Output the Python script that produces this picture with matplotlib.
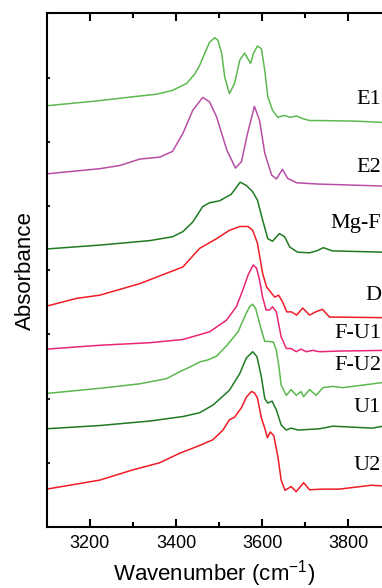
import matplotlib
matplotlib.use("Agg")
import matplotlib.pyplot as plt
from matplotlib.ticker import FixedLocator, NullFormatter

plt.rcParams['font.family'] = ['Liberation Sans', 'DejaVu Sans']

# spectra, stacked (absorbance + offset)
e1_wn = [3100, 3223, 3300, 3355, 3392, 3425, 3443, 3455, 3467, 3478, 3490, 3497, 3506, 3513, 3524,
         3536, 3548, 3559, 3566, 3573, 3580, 3589, 3598, 3606, 3613, 3624, 3636, 3652, 3664, 3680,
         3694, 3710, 3733, 3819, 3880]
e1_ab = [6.56, 6.64, 6.70, 6.74, 6.80, 6.91, 7.05, 7.19, 7.38, 7.55, 7.62, 7.58, 7.38, 7.01, 6.75,
         6.91, 7.27, 7.38, 7.30, 7.22, 7.38, 7.49, 7.45, 7.11, 6.70, 6.49, 6.38, 6.41, 6.38, 6.40,
         6.36, 6.33, 6.33, 6.32, 6.30]

e2_wn = [3100, 3223, 3270, 3316, 3362, 3392, 3416, 3439, 3462, 3478, 3494, 3518, 3538, 3552, 3566,
         3582, 3594, 3606, 3622, 3633, 3647, 3659, 3680, 3733, 3880]
e2_ab = [5.50, 5.58, 5.63, 5.73, 5.76, 5.85, 6.13, 6.49, 6.69, 6.62, 6.39, 5.87, 5.59, 5.69, 6.13,
         6.55, 6.33, 5.82, 5.48, 5.42, 5.57, 5.43, 5.36, 5.34, 5.31]

mgf_wn = [3100, 3223, 3339, 3392, 3416, 3439, 3462, 3478, 3501, 3528, 3549, 3563, 3578, 3589, 3601,
          3613, 3624, 3640, 3652, 3664, 3682, 3710, 3726, 3742, 3763, 3880]
mgf_ab = [4.33, 4.39, 4.46, 4.52, 4.60, 4.75, 4.99, 5.05, 5.08, 5.18, 5.37, 5.32, 5.22, 5.09, 4.78,
          4.49, 4.45, 4.57, 4.52, 4.36, 4.28, 4.27, 4.30, 4.35, 4.30, 4.28]

d_wn = [3100, 3169, 3223, 3316, 3416, 3455, 3494, 3524, 3548, 3567, 3578, 3589, 3601, 3610, 3629,
        3638, 3647, 3657, 3668, 3680, 3694, 3710, 3724, 3740, 3756, 3880]
d_ab = [3.44, 3.56, 3.61, 3.79, 4.05, 4.34, 4.49, 4.62, 4.68, 4.68, 4.62, 4.42, 3.95, 3.74, 3.58,
        3.61, 3.51, 3.35, 3.35, 3.30, 3.41, 3.30, 3.35, 3.39, 3.27, 3.26]

fu1_wn = [3100, 3223, 3339, 3416, 3478, 3517, 3540, 3555, 3567, 3579, 3587, 3594, 3601, 3609, 3617,
          3624, 3633, 3644, 3656, 3667, 3679, 3690, 3702, 3717, 3733, 3779, 3880]
fu1_ab = [2.77, 2.83, 2.87, 2.92, 3.04, 3.22, 3.43, 3.69, 3.92, 4.08, 4.03, 3.84, 3.58, 3.38, 3.38,
          3.43, 3.35, 2.96, 2.78, 2.78, 2.73, 2.77, 2.73, 2.75, 2.73, 2.74, 2.75]

fu2_wn = [3100, 3223, 3316, 3378, 3409, 3432, 3455, 3473, 3494, 3517, 3544, 3563, 3571, 3578, 3585,
          3590, 3598, 3606, 3617, 3626, 3633, 3639, 3644, 3656, 3667, 3679, 3690, 3696, 3710, 3725,
          3741, 3764, 3787, 3880]
fu2_ab = [2.08, 2.16, 2.23, 2.31, 2.42, 2.49, 2.57, 2.60, 2.66, 2.82, 3.04, 3.33, 3.43, 3.47, 3.40,
          3.27, 3.07, 2.89, 2.89, 2.88, 2.75, 2.49, 2.21, 2.05, 2.14, 2.05, 2.11, 2.03, 2.14, 2.05,
          2.17, 2.19, 2.17, 2.25]

u1_wn = [3100, 3223, 3339, 3416, 3455, 3486, 3524, 3548, 3563, 3578, 3588, 3598, 3606, 3613, 3623,
         3633, 3644, 3656, 3667, 3683, 3710, 3733, 3764, 3856, 3880]
u1_ab = [1.53, 1.58, 1.65, 1.72, 1.78, 1.90, 2.13, 2.39, 2.63, 2.73, 2.65, 2.34, 2.00, 1.93, 1.96,
         1.82, 1.59, 1.51, 1.54, 1.51, 1.52, 1.53, 1.57, 1.54, 1.57]

u2_wn = [3100, 3223, 3300, 3362, 3409, 3455, 3486, 3509, 3524, 3536, 3552, 3563, 3575, 3582, 3589,
         3598, 3606, 3612, 3619, 3627, 3637, 3644, 3653, 3667, 3679, 3696, 3710, 3741, 3779, 3853,
         3880]
u2_ab = [0.59, 0.73, 0.89, 1.00, 1.15, 1.27, 1.36, 1.51, 1.67, 1.71, 1.86, 2.02, 2.11, 2.09, 2.01,
         1.70, 1.54, 1.39, 1.48, 1.42, 1.07, 0.73, 0.57, 0.63, 0.55, 0.69, 0.58, 0.59, 0.59, 0.65,
         0.64]

labels = ["E1", "E2", "Mg-F", "D", "F-U1", "F-U2", "U1", "U2"]
label_y = [6.65, 5.60, 4.73, 3.61, 3.02, 2.52, 1.86, 0.96]

light_green = "#5cb84f"
dark_green = "#1f7a22"
red = "#ee1c25"

series = [
    (e1_wn, e1_ab, light_green),
    (e2_wn, e2_ab, "#b84ea6"),
    (mgf_wn, mgf_ab, dark_green),
    (d_wn, d_ab, red),
    (fu1_wn, fu1_ab, "#ea2574"),
    (fu2_wn, fu2_ab, light_green),
    (u1_wn, u1_ab, dark_green),
    (u2_wn, u2_ab, red),
]

fig = plt.figure(figsize=(3.82, 5.88), dpi=100)
ax = fig.add_axes([46.7 / 382, 61 / 588, 1 - 46.7 / 382, (527 - 13.3) / 588])

for wn, ab, col in series:
    ax.plot(wn, ab, color=col, lw=1.1)

for lab, yy in zip(labels, label_y):
    ax.text(3876, yy, lab, ha="right", va="center", fontsize=16,
            family=["Liberation Serif", "DejaVu Serif"], clip_on=False)

ax.set_xlim(3100, 3878)
ax.set_ylim(0, 8)

ax.xaxis.set_major_locator(FixedLocator([3200, 3400, 3600, 3800]))
ax.xaxis.set_minor_locator(FixedLocator([3300, 3500, 3700]))
ax.yaxis.set_major_locator(FixedLocator([1, 2, 3, 4, 5, 6, 7]))
ax.yaxis.set_major_formatter(NullFormatter())

ax.tick_params(axis="x", which="major", direction="in", length=6, width=1.5,
               top=True, labelsize=13, pad=6)
ax.tick_params(axis="x", which="minor", direction="in", length=3.5, width=1.5, top=True)
ax.tick_params(axis="y", which="major", direction="in", length=2.5, width=1.2, right=False)

ax.spines["right"].set_visible(False)
for s in ["left", "top", "bottom"]:
    ax.spines[s].set_linewidth(1.5)

ax.set_xlabel("Wavenumber (cm$^{\\mathregular{-1}}$)", fontsize=16, labelpad=4)
ax.set_ylabel("Absorbance", fontsize=16, labelpad=4)

fig.savefig("out.png", dpi=100)
